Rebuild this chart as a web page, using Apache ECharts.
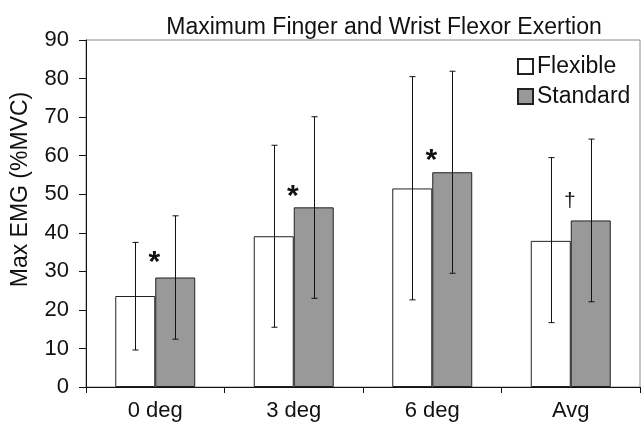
<!DOCTYPE html>
<html>
<head>
<meta charset="utf-8">
<script src="https://cdn.jsdelivr.net/npm/echarts@6/dist/echarts.min.js"></script>
<style>html,body{margin:0;padding:0;background:#fff;}#c{width:641px;height:431px;}</style>
</head>
<body>
<div id="c"></div>
<script>
const categories = ['0 deg', '3 deg', '6 deg', 'Avg'];
const flexible = [23.6, 39.1, 51.5, 37.9];
const standard = [28.4, 46.6, 55.7, 43.2];
const flexibleLow = [9.6, 15.5, 22.6, 16.7];
const flexibleHigh = [37.5, 62.7, 80.5, 59.5];
const standardLow = [12.4, 23.0, 29.5, 22.1];
const standardHigh = [44.4, 70.1, 81.9, 64.3];
const markTexts = ['*', '*', '*', '\u2020'];
const markValues = [33.8, 51.1, 60.4, 48.1];
const yTicks = [0, 10, 20, 30, 40, 50, 60, 70, 80, 90];

const FONT = 'Liberation Sans, Arial, sans-serif';
const GAP = 0.4224;

function errSeries(low, high, side) {
  return {
    type: 'custom',
    silent: true,
    z: 5,
    data: low.map((l, i) => [i, l, high[i]]),
    renderItem: function (params, api) {
      const band = api.size([1, 0])[0];
      const bw = band * (1 - GAP) / 2;
      const c = api.coord([api.value(0), 0]);
      const x = Math.round(c[0] + side * bw / 2) + 0.5;
      const yl = api.coord([api.value(0), api.value(1)])[1];
      const yh = api.coord([api.value(0), api.value(2)])[1];
      const st = { stroke: '#111', lineWidth: 1 };
      return {
        type: 'group',
        children: [
          { type: 'line', shape: { x1: x, y1: yl, x2: x, y2: yh }, style: st },
          { type: 'line', shape: { x1: x - 3, y1: yl, x2: x + 3, y2: yl }, style: st },
          { type: 'line', shape: { x1: x - 3, y1: yh, x2: x + 3, y2: yh }, style: st }
        ]
      };
    }
  };
}

const chart = echarts.init(document.getElementById('c'), null, { renderer: 'canvas' });
chart.setOption({
  animation: false,
  backgroundColor: '#fff',
  textStyle: { fontFamily: FONT },
  title: {
    text: 'Maximum Finger and Wrist Flexor Exertion',
    left: 379, top: 11, textAlign: 'center',
    textStyle: { fontFamily: FONT, fontSize: 23, fontWeight: 'normal', color: '#111' }
  },
  legend: {
    orient: 'vertical',
    left: 512, top: 50,
    itemWidth: 15, itemHeight: 15, itemGap: 7,
    icon: 'rect',
    textStyle: { fontFamily: FONT, fontSize: 23, color: '#111', padding: [0, 0, 0, -1] },
    data: ['Flexible', 'Standard']
  },
  grid: {
    left: 86, right: 1, top: 40, bottom: 44,
    show: true, borderColor: '#8a8a8a', borderWidth: 1, backgroundColor: 'transparent'
  },
  xAxis: {
    type: 'category',
    data: categories,
    axisLine: { lineStyle: { color: '#111', width: 1 } },
    axisTick: { show: true, alignWithLabel: false, length: 6, lineStyle: { color: '#111' } },
    axisLabel: { fontFamily: FONT, fontSize: 22, color: '#111', margin: 13 }
  },
  yAxis: {
    type: 'value',
    min: 0, max: 90, interval: 10,
    name: 'Max EMG (%MVC)',
    nameLocation: 'middle',
    nameGap: 54,
    nameTextStyle: { fontFamily: FONT, fontSize: 23, color: '#111', padding: [0, 0, 0, 48] },
    splitLine: { show: false },
    axisLine: { show: true, lineStyle: { color: '#111', width: 1 } },
    axisTick: { show: true, length: 7, lineStyle: { color: '#111' } },
    axisLabel: {
      fontFamily: FONT, fontSize: 22, color: '#111', margin: 17,
      formatter: function (v) { return yTicks.indexOf(v) >= 0 ? String(v) : ''; }
    }
  },
  series: [
    {
      name: 'Flexible', type: 'bar', data: flexible,
      barGap: '0%', barCategoryGap: (GAP * 100) + '%',
      itemStyle: { color: '#ffffff', borderColor: '#222', borderWidth: 1 }
    },
    {
      name: 'Standard', type: 'bar', data: standard,
      barGap: '0%', barCategoryGap: (GAP * 100) + '%',
      itemStyle: { color: '#999999', borderColor: '#222', borderWidth: 1 }
    },
    errSeries(flexibleLow, flexibleHigh, -1),
    errSeries(standardLow, standardHigh, 1),
    {
      type: 'custom',
      silent: true,
      z: 6,
      data: markValues.map((v, i) => [i, v, markTexts[i]]),
      renderItem: function (params, api) {
        const p = api.coord([api.value(0), api.value(1)]);
        const t = markTexts[params.dataIndex];
        const isStar = t === '*';
        return {
          type: 'text',
          x: p[0] - 1,
          y: p[1] + (isStar ? 6.5 : 0),
          style: {
            text: t,
            fontFamily: FONT,
            fontSize: isStar ? 30 : 21,
            fontWeight: isStar ? 'bold' : 'normal',
            fill: '#111',
            align: 'center',
            verticalAlign: 'middle'
          }
        };
      }
    }
  ]
});
</script>
</body>
</html>
